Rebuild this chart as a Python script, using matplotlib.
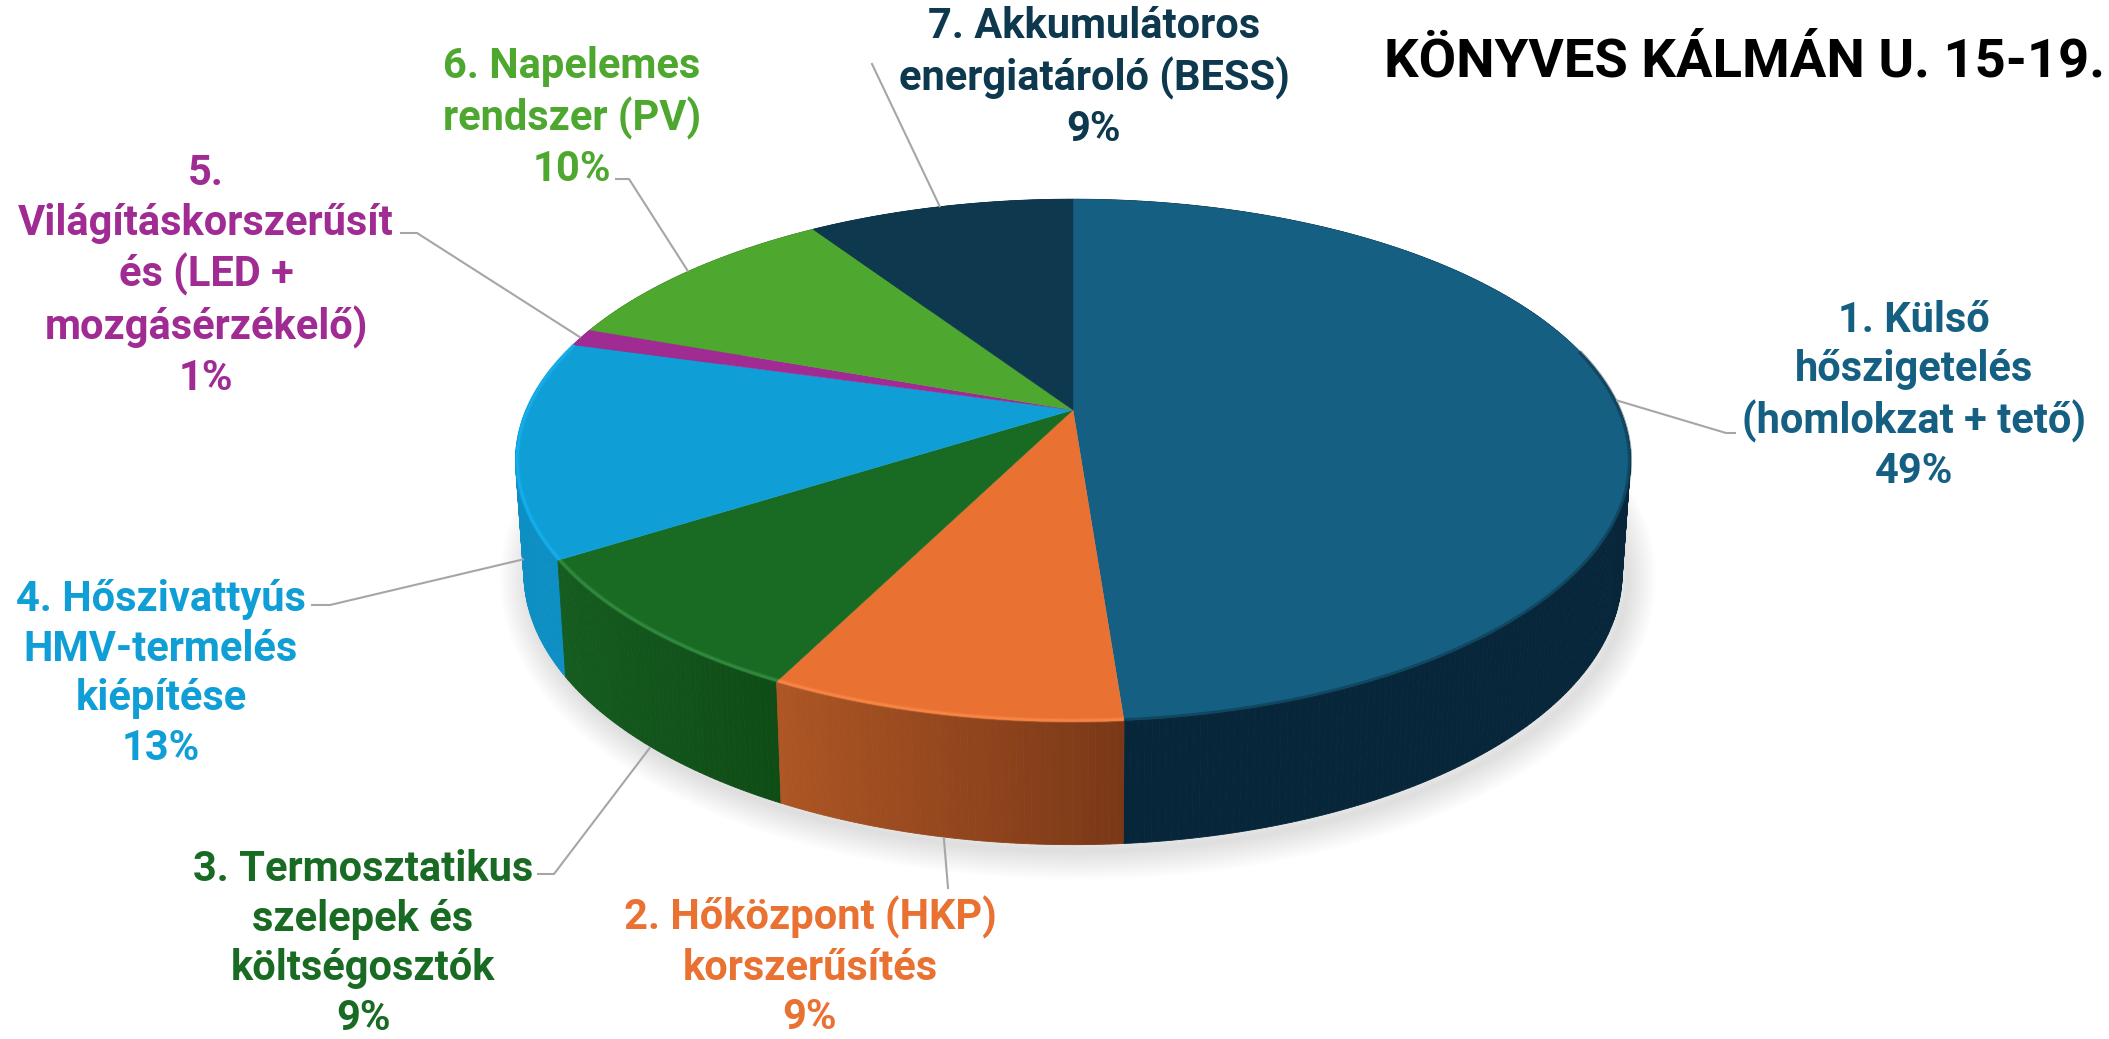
import numpy as np
import matplotlib
matplotlib.use("Agg")
import matplotlib.pyplot as plt

title = "KÖNYVES KÁLMÁN U. 15-19."
labels = ["1. Külső\nhőszigetelés\n(homlokzat + tető)\n49%",
          "2. Hőközpont (HKP)\nkorszerűsítés\n9%",
          "3. Termosztatikus\nszelepek és\nköltségosztók\n9%",
          "4. Hőszivattyús\nHMV-termelés\nkiépítése\n13%",
          "5.\nVilágításkorszerűsít\nés (LED +\nmozgásérzékelő)\n1%",
          "6. Napelemes\nrendszer (PV)\n10%",
          "7. Akkumulátoros\nenergiatároló (BESS)\n9%"]
values = [48.8, 8.6, 8.6, 13.4, 1.1, 10.2, 9.3]
top_colors = ["#156082", "#E97132", "#196B24", "#0F9ED5", "#A02B93", "#4EA72E", "#0D384D"]
text_colors = ["#156082", "#E97132", "#196B24", "#0F9ED5", "#A02B93", "#4EA72E", "#0D384D"]
side_left = ["#0A2C3E", "#AE5624", "#155C20", "#0D8FC4", "#7A2070", "#3A7D22", "#0A2A3A"]
side_right = ["#07263A", "#7A3817", "#0F4C16", "#0B80B0", "#7A2070", "#3A7D22", "#0A2A3A"]
rim_colors = [None, "#FF9050", "#3E9A4C", "#18B6F8", None, None, None]

# label centre (x, y of block centre) and elbow of the leader line, in figure pixels
label_pos = [(1914, 396), (810, 967), (363, 944), (161, 674), (206, 276), (572, 118), (1094, 78)]
elbows = [[(1726, 433), (1735, 433)], [(948, 888)], [(554, 874), (538, 874)],
          [(330, 605), (312, 605)], [(417, 233), (401, 233)], [(629, 179), (616, 179)],
          [(872, 64)]]
anchor_on_bottom = [False, True, True, True, False, False, False]

CX, CY, A, B, K, D, SX = 1073, 410, 547, 251.5, 0.193, 110.5, 0.985


def project(theta, r=1.0, bottom=False):
    u, v = r * np.sin(theta), r * np.cos(theta)
    w = 1 + K * v
    x, y = A * u / w, -B * v / w
    if bottom:
        return CX + x * SX, CY + y + D / np.sqrt(w)
    return CX + x, CY + y


fig = plt.figure(figsize=(21.09, 10.39), dpi=100, facecolor="white")
ax = fig.add_axes([0, 0, 1, 1])
ax.set_xlim(0, 2109)
ax.set_ylim(1039, 0)
ax.axis("off")

fracs = np.array(values) / np.sum(values)
edges = np.concatenate([[0], np.cumsum(fracs)]) * 2 * np.pi

# soft shadow
tt = np.linspace(0, 2 * np.pi, 720)
bx, by = project(tt, bottom=True)
for i in range(16, 0, -1):
    ax.fill(bx + 5, by + 6, facecolor="none", edgecolor="black", alpha=0.0085,
            lw=i * 2.6, joinstyle="round", zorder=1)

# side wall strips, back to front
strips = []
for s in range(len(values)):
    n = max(2, int((edges[s + 1] - edges[s]) / np.radians(0.6)))
    th = np.linspace(edges[s], edges[s + 1], n + 1)
    for a, b in zip(th[:-1], th[1:]):
        strips.append((np.cos((a + b) / 2), s, a, b))
strips.sort(key=lambda t: -t[0])
L = [np.array(matplotlib.colors.to_rgb(c)) for c in side_left]
R = [np.array(matplotlib.colors.to_rgb(c)) for c in side_right]
for z, s, a, b in strips:
    xa, ya = project(a)
    xb, yb = project(b)
    xa2, ya2 = project(a, bottom=True)
    xb2, yb2 = project(b, bottom=True)
    x0, _ = project(edges[s + 1])
    x1, _ = project(edges[s])
    f = np.clip(((xa + xb) / 2 - min(x0, x1)) / max(1, abs(x1 - x0)), 0, 1)
    col = L[s] * (1 - f) + R[s] * f
    ax.fill([xa, xb, xb2, xa2], [ya, yb, yb2, ya2], color=col, lw=0.6, zorder=2)

# top faces
for s in range(len(values)):
    th = np.linspace(edges[s], edges[s + 1], 200)
    x, y = project(th)
    ax.fill(np.r_[CX, x], np.r_[CY, y], color=top_colors[s], lw=0.3, zorder=3)

# bevel along the rim
for s in range(len(values)):
    th = np.linspace(edges[s], edges[s + 1], 200)
    x, y = project(th, r=0.997)
    mask = (np.cos(th) < 0.32)
    if s == 0:
        xx, yy = project(th[np.cos(th) < 0.25], r=0.999)
        ax.plot(xx, yy, color="#0A2C3E", lw=3, alpha=0.45, zorder=4, solid_capstyle="butt")
    elif rim_colors[s]:
        for lw, al in ((3.4, 0.25), (1.8, 0.5)):
            ax.plot(x[mask], y[mask], color=rim_colors[s], lw=lw, alpha=al, zorder=4,
                    solid_capstyle="butt")

# leader lines
for s, el in enumerate(elbows):
    mid = (edges[s] + edges[s + 1]) / 2
    px, py = project(mid, r=1.003, bottom=anchor_on_bottom[s])
    xs = [px] + [p[0] for p in el]
    ys = [py] + [p[1] for p in el]
    ax.plot(xs, ys, color="#A6A6A6", lw=1.5, zorder=5, solid_joinstyle="miter")

FONT = "Roboto"
for s, txt in enumerate(labels):
    ax.text(label_pos[s][0], label_pos[s][1], txt, ha="center", va="center",
            color=text_colors[s], fontsize=30, fontweight="bold", family=FONT,
            linespacing=1.27, zorder=6)

ax.text(1384, 62, title, ha="left", va="center", color="black", fontsize=39.2,
        fontweight="bold", family=FONT, zorder=6)

fig.savefig("out.png", dpi=100, facecolor="white")
